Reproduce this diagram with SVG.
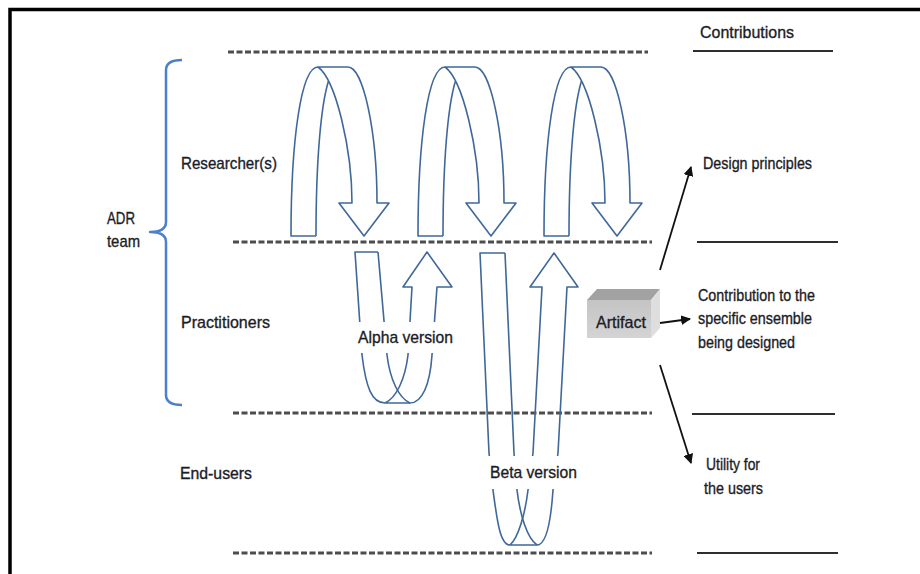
<svg xmlns="http://www.w3.org/2000/svg" width="920" height="574" viewBox="0 0 920 574">
  <defs>
    <style>
      .lbl { font-family: "Liberation Sans Narrow", "Liberation Sans", Arial, sans-serif; font-size: 17px; fill: #1c1c26; stroke: #1c1c26; stroke-width: 0.35px; }
      .dash { stroke: #4d4d4d; stroke-width: 3; stroke-dasharray: 6 2.5; fill: none; }
      .rule { stroke: #2e2e2e; stroke-width: 2; fill: none; }
      .flow { stroke: #3f6899; stroke-width: 1.6; fill: none; stroke-linejoin: round; }
      .brace { stroke: #4a80cc; stroke-width: 2.5; fill: none; stroke-linejoin: round; }
      .out { stroke: #111; stroke-width: 1.8; fill: none; marker-end: url(#tip); }
    </style>
    <marker id="tip" viewBox="0 0 10 10" refX="9" refY="5" markerWidth="5.5" markerHeight="5.5" orient="auto" markerUnits="strokeWidth">
      <path d="M0,0 L10,5 L0,10 Z" fill="#111"/>
    </marker>
    <!-- curved loop arrow in the researcher band -->
    <g id="loop">
      <path class="flow" d="M25,236 L0,236 C0,140 10,67 27,67 L57,67 C72,67 86,130 86,203 L98,203 L73,236 L48,203 L61,203 C61,150 45,80 27,67"/>
      <path class="flow" d="M25,236 C25,160 30,105 37.5,81"/>
    </g>
    <linearGradient id="face" x1="0" y1="0" x2="0" y2="1">
      <stop offset="0" stop-color="#c4c4c4"/>
      <stop offset="1" stop-color="#d4d4d4"/>
    </linearGradient>
  </defs>

  <rect width="920" height="574" fill="#ffffff"/>
  <!-- outer frame -->
  <rect x="10" y="9.5" width="960" height="620" fill="none" stroke="#000" stroke-width="3.5"/>

  <!-- band separators -->
  <g id="bands">
    <line class="dash" x1="228" y1="52" x2="648" y2="52"/>
    <line class="dash" x1="233" y1="242" x2="652" y2="242"/>
    <line class="dash" x1="233" y1="413" x2="652" y2="413"/>
    <line class="dash" x1="233" y1="553" x2="652" y2="553"/>
    <line class="rule" x1="693" y1="51" x2="833" y2="51"/>
    <line class="rule" x1="697" y1="242" x2="838" y2="242"/>
    <line class="rule" x1="692" y1="414" x2="835" y2="414"/>
    <line class="rule" x1="697" y1="553" x2="838" y2="553"/>
  </g>

  <!-- ADR team brace -->
  <g id="adr-team">
    <path class="brace" d="M182,60 Q166,60 166,70 L166,222 Q166,232 150,232 Q166,232 166,242 L166,395 Q166,405 182,405"/>
    <text class="lbl" x="107" y="224" textLength="28" lengthAdjust="spacingAndGlyphs">ADR</text>
    <text class="lbl" x="107" y="247" textLength="33" lengthAdjust="spacingAndGlyphs">team</text>
  </g>

  <!-- row labels -->
  <g id="researchers"><text class="lbl" x="181" y="169" textLength="96" lengthAdjust="spacingAndGlyphs">Researcher(s)</text></g>
  <g id="practitioners"><text class="lbl" x="181" y="328" textLength="89" lengthAdjust="spacingAndGlyphs">Practitioners</text></g>
  <g id="end-users"><text class="lbl" x="180" y="479" textLength="72" lengthAdjust="spacingAndGlyphs">End-users</text></g>

  <!-- research cycles -->
  <g id="cycles">
    <use href="#loop" transform="translate(291,0)"/>
    <use href="#loop" transform="translate(418,0)"/>
    <use href="#loop" transform="translate(544,0)"/>
  </g>

  <!-- alpha version U-turn -->
  <g id="alpha">
    <path class="flow" d="M378,252 L355,252 L362,355 C366,388 372,403 385,403 L410,403 C422,403 430,385 432,355 L437,287 L452,287 L427,252 L403,287 L412,287 L408,355 C405,380 396,398 385,403"/>
    <path class="flow" d="M378,252 L387,355 C390,380 399,398 410,403"/>
    <rect x="352" y="322" width="106" height="31" fill="#fff"/>
    <text class="lbl" x="358" y="343" textLength="95" lengthAdjust="spacingAndGlyphs">Alpha version</text>
  </g>

  <!-- beta version U-turn -->
  <g id="beta">
    <path class="flow" d="M505,253 L480,253 L489,453 L493,490 C497,520 500,545 510,545 L537,545 C547,545 551,520 553,490 L558,453 L567,287 L578,287 L554,253 L530,287 L542,287 L533,453 L528,490 C525,515 518,538 510,545"/>
    <path class="flow" d="M505,253 L514,453 L517,490 C520,515 527,538 537,545"/>
    <rect x="486" y="456" width="96" height="33" fill="#fff"/>
    <text class="lbl" x="490" y="478" textLength="87" lengthAdjust="spacingAndGlyphs">Beta version</text>
  </g>

  <!-- artifact block -->
  <g id="artifact">
    <polygon points="587,300 597,289 660,289 651,300" fill="#a2a2a2"/>
    <polygon points="651,300 660,289 660,328 651,338" fill="#dedede"/>
    <rect x="587" y="300" width="64" height="38" fill="url(#face)"/>
    <text class="lbl" x="596" y="328" textLength="50" lengthAdjust="spacingAndGlyphs">Artifact</text>
  </g>

  <!-- contribution arrows -->
  <g id="connectors">
    <line class="out" x1="660" y1="270" x2="691" y2="167"/>
    <line class="out" x1="660" y1="323" x2="690" y2="319"/>
    <line class="out" x1="660" y1="365" x2="691" y2="463"/>
  </g>

  <!-- contributions column -->
  <g id="contributions"><text class="lbl" x="700" y="38" textLength="94" lengthAdjust="spacingAndGlyphs">Contributions</text></g>
  <g id="design-principles"><text class="lbl" x="703" y="169" textLength="109" lengthAdjust="spacingAndGlyphs">Design principles</text></g>
  <g id="ensemble">
    <text class="lbl" x="698" y="301" textLength="117" lengthAdjust="spacingAndGlyphs">Contribution to the</text>
    <text class="lbl" x="698" y="324" textLength="114" lengthAdjust="spacingAndGlyphs">specific ensemble</text>
    <text class="lbl" x="698" y="348" textLength="97" lengthAdjust="spacingAndGlyphs">being designed</text>
  </g>
  <g id="utility">
    <text class="lbl" x="706" y="470" textLength="54" lengthAdjust="spacingAndGlyphs">Utility for</text>
    <text class="lbl" x="704" y="494" textLength="59" lengthAdjust="spacingAndGlyphs">the users</text>
  </g>
</svg>
